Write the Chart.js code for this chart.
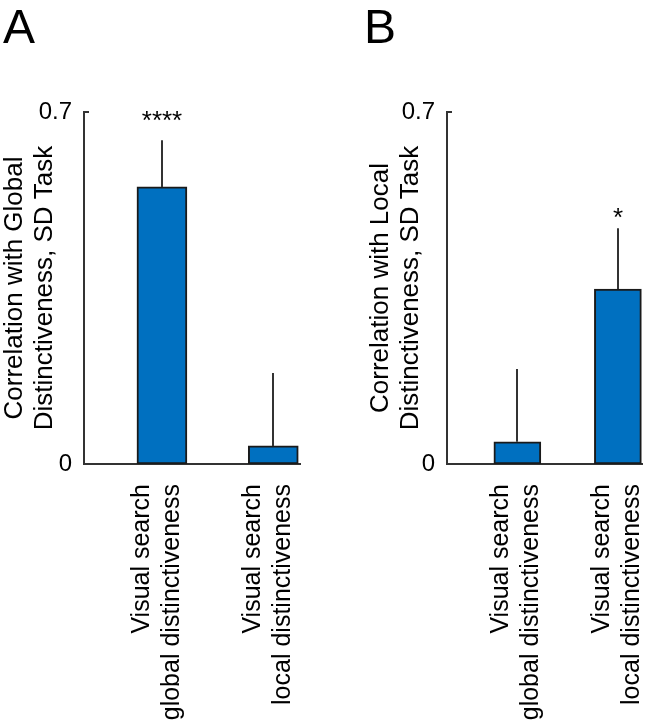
<!DOCTYPE html>
<html>
<head>
<meta charset="utf-8">
<script src="https://cdn.jsdelivr.net/npm/chart.js@4"></script>
<style>
  html, body { margin: 0; padding: 0; background: #ffffff; }
  #wrap { position: relative; width: 656px; height: 720px; overflow: hidden; background: #fff; }
  canvas { position: absolute; top: 0; }
</style>
</head>
<body>
<div id="wrap">
  <canvas id="chartA" width="363" height="720" style="left:0px"></canvas>
  <canvas id="chartB" width="293" height="720" style="left:363px"></canvas>
</div>
<script>
// ---------- data ----------
const xPositions = [1, 2];
const categories = [
  ["Visual search", "global distinctiveness"],
  ["Visual search", "local distinctiveness"]
];
const valuesA = [0.551, 0.036];
const errorsA = [0.093, 0.145];
const starsA = ["****", ""];
const valuesB = [0.044, 0.348];
const errorsB = [0.145, 0.121];
const starsB = ["", "*"];
const yTickValues = [0, 0.7];
const yTickLabels = ["0", "0.7"];
const yTitleA = ["Correlation with Global", "Distinctiveness, SD Task"];
const yTitleB = ["Correlation with Local", "Distinctiveness, SD Task"];
const panelLetters = ["A", "B"];

// ---------- styles ----------
const FONT = "'Liberation Sans', Arial, Helvetica, sans-serif";
const BAR_COLOR = "#0070C0";
const LINE_COLOR = "#333333";

function makePanel(canvasId, cfg) {
  const decor = {
    id: 'decor' + canvasId,
    afterDatasetsDraw(chart) {
      const ctx = chart.ctx;
      const xs = chart.scales.x, ys = chart.scales.y;
      ctx.save();
      ctx.strokeStyle = LINE_COLOR;
      ctx.lineWidth = 2;
      cfg.values.forEach((v, i) => {
        const x = Math.round(xs.getPixelForValue(xPositions[i]));
        const y0 = ys.getPixelForValue(v);
        const y1 = ys.getPixelForValue(v + cfg.errors[i]);
        ctx.beginPath();
        ctx.moveTo(x, y0);
        ctx.lineTo(x, y1);
        ctx.stroke();
        if (cfg.stars[i]) {
          ctx.fillStyle = '#000';
          ctx.font = '26px ' + FONT;
          ctx.textAlign = 'center';
          ctx.textBaseline = 'alphabetic';
          ctx.fillText(cfg.stars[i], x, y1 - cfg.starGap);
        }
      });
      const yt = ys.getPixelForValue(yTickValues[yTickValues.length - 1]);
      const xl = chart.chartArea.left;
      ctx.beginPath();
      ctx.moveTo(xl, yt);
      ctx.lineTo(xl + 5, yt);
      ctx.stroke();
      ctx.fillStyle = '#000';
      ctx.font = '48px ' + FONT;
      ctx.textAlign = 'left';
      ctx.textBaseline = 'alphabetic';
      ctx.fillText(cfg.letter, cfg.letterX, 43);
      ctx.restore();
    }
  };

  return new Chart(document.getElementById(canvasId), {
    type: 'bar',
    data: {
      datasets: [{
        data: cfg.values.map((v, i) => ({ x: xPositions[i], y: v })),
        backgroundColor: BAR_COLOR,
        borderColor: '#1a1a1a',
        borderWidth: 2,
        borderSkipped: false,
        barThickness: cfg.barThickness
      }]
    },
    options: {
      responsive: false,
      devicePixelRatio: 1,
      animation: false,
      events: [],
      layout: { padding: { left: 0, top: 112, right: cfg.rightPad, bottom: 0 } },
      plugins: { legend: { display: false }, tooltip: { enabled: false } },
      scales: {
        x: {
          type: 'linear',
          offset: false,
          grace: 0,
          min: 0.3,
          max: 2.24,
          grid: { display: false, drawTicks: false, offset: false },
          border: { display: true, color: LINE_COLOR, width: 2 },
          afterBuildTicks: (s) => { s.ticks = xPositions.map(v => ({ value: v })); },
          afterFit: (s) => { s.height = 256; s.paddingLeft = 0; s.paddingRight = 0; },
          ticks: {
            autoSkip: false,
            minRotation: 90,
            maxRotation: 90,
            padding: 20,
            labelOffset: cfg.labelOffset,
            color: '#000',
            font: { family: FONT, size: 25, lineHeight: 1.2 },
            callback: (value) => {
              const idx = xPositions.indexOf(value);
              return idx >= 0 ? categories[idx] : '';
            }
          }
        },
        y: {
          min: 0,
          max: 0.7,
          grid: { display: false, drawTicks: false },
          border: { display: true, color: LINE_COLOR, width: 2 },
          afterBuildTicks: (s) => { s.ticks = yTickValues.map(v => ({ value: v })); },
          afterFit: (s) => { s.width = 84; },
          ticks: {
            padding: 12,
            color: '#000',
            font: { family: FONT, size: 24 },
            callback: (value) => {
              const idx = yTickValues.indexOf(value);
              return idx >= 0 ? yTickLabels[idx] : '';
            }
          },
          title: {
            display: true,
            text: cfg.yTitle,
            color: '#000',
            font: { family: FONT, size: 26, lineHeight: 30 / 26 },
            padding: { top: cfg.titlePad, bottom: 0 }
          }
        }
      }
    },
    plugins: [decor]
  });
}

makePanel('chartA', {
  values: valuesA, errors: errorsA, stars: starsA, yTitle: yTitleA,
  letter: panelLetters[0], letterX: 3, rightPad: 63, barThickness: 50,
  labelOffset: -20, titlePad: 0, starGap: 11
});
makePanel('chartB', {
  values: valuesB, errors: errorsB, stars: starsB, yTitle: yTitleB,
  letter: panelLetters[1], letterX: 1, rightPad: 14, barThickness: 47,
  labelOffset: -16, titlePad: 3, starGap: 2
});
</script>
</body>
</html>
